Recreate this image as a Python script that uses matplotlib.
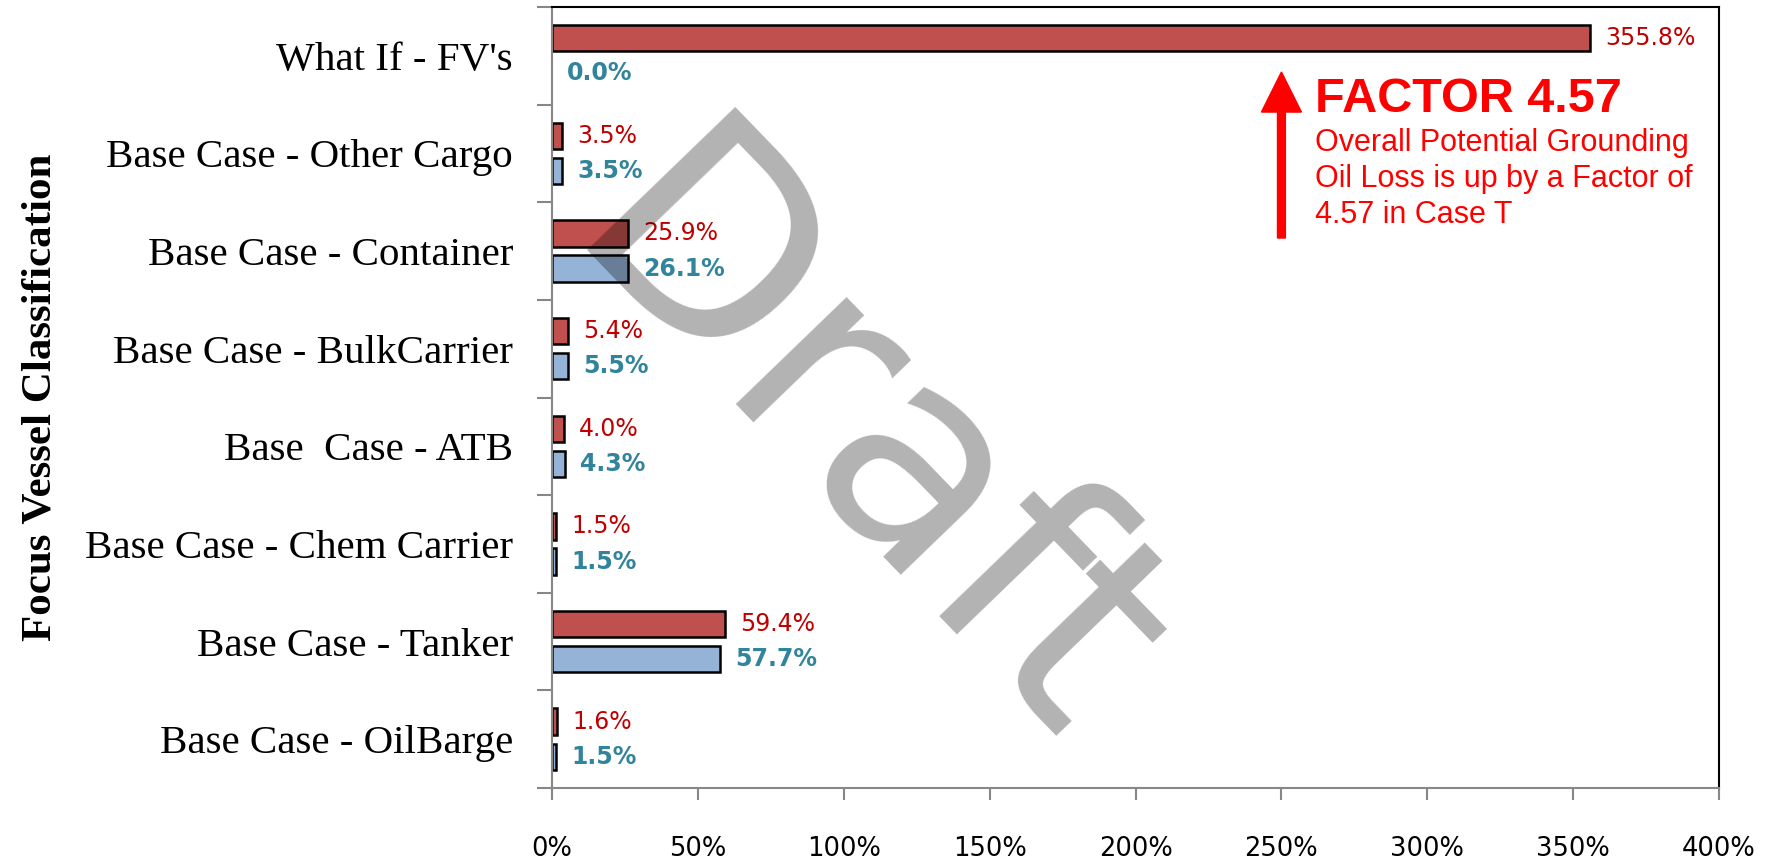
import numpy as np
import matplotlib.pyplot as plt
from matplotlib.ticker import FuncFormatter

categories = ["What If - FV's", "Base Case - Other Cargo", "Base Case - Container",
              "Base Case - BulkCarrier", "Base  Case - ATB", "Base Case - Chem Carrier",
              "Base Case - Tanker", "Base Case - OilBarge"]
case_t = [355.8, 3.5, 25.9, 5.4, 4.0, 1.5, 59.4, 1.6]
base = [0.0, 3.5, 26.1, 5.5, 4.3, 1.5, 57.7, 1.5]
x_ticks = [0, 50, 100, 150, 200, 250, 300, 350, 400]

fig = plt.figure(figsize=(17.87, 8.65), dpi=100)
ax = fig.add_axes([0.3089, 0.089, 0.962 - 0.3089, 0.9919 - 0.089])

y = np.arange(len(categories))
h = 0.27
off = 0.18
red_lw = [1.8 if v > 0 else 0 for v in case_t]
blue_lw = [1.8 if v > 0 else 0 for v in base]
ax.barh(y - off, case_t, height=h, color='#C0504D', edgecolor='black', linewidth=red_lw, zorder=2)
ax.barh(y + off, base, height=h, color='#95B3D7', edgecolor='black', linewidth=blue_lw, zorder=2)

for yi, v in zip(y, case_t):
    ax.annotate(f'{v:.1f}%', (v, yi - off), xytext=(11, 0), textcoords='offset points',
                va='center', ha='left', fontsize=17, color='#C00000', family='DejaVu Sans')
for yi, v in zip(y, base):
    ax.annotate(f'{v:.1f}%', (v, yi + off), xytext=(11, 0), textcoords='offset points',
                va='center', ha='left', fontsize=17, color='#31849B', fontweight='bold',
                family='DejaVu Sans')

ax.set_xlim(0, 400)
ax.set_ylim(len(categories) - 0.5, -0.5)
ax.set_xticks(x_ticks)
ax.xaxis.set_major_formatter(FuncFormatter(lambda v, p: f'{v:.0f}%'))
ax.set_yticks(y)
ax.set_yticklabels(categories, family='Liberation Serif', fontsize=29.5)
ax.set_yticks(np.arange(len(categories) + 1) - 0.5, minor=True)
ax.tick_params(axis='y', which='major', length=0, pad=28)
ax.tick_params(axis='y', which='minor', length=11, width=1.5, color='#878787', direction='out')
ax.tick_params(axis='x', length=8.5, width=1.5, color='#878787', direction='out', pad=26, labelsize=18.5)
for lab in ax.get_xticklabels():
    lab.set_family('DejaVu Sans')

ax.spines['left'].set_color('#878787')
ax.spines['bottom'].set_color('#878787')
for s in ax.spines.values():
    s.set_linewidth(1.5)

ax.set_ylabel('Focus Vessel Classification', family='Liberation Serif', fontweight='bold',
              fontsize=31, labelpad=0)
ax.yaxis.set_label_coords(-0.422, 0.5)

# annotation
ax.arrow(250, 1.866, 0, -1.7, width=2.7, head_width=13.7, head_length=0.41,
         length_includes_head=True, color='red', zorder=3)
ax.text(261.5, 0.576, 'FACTOR 4.57', color='red', fontsize=35, fontweight='bold',
        family='Liberation Sans', va='baseline', ha='left')
ax.text(261.5, 0.74, 'Overall Potential Grounding\nOil Loss is up by a Factor of\n4.57 in Case T',
        color='red', fontsize=22, family='Liberation Sans', va='top', ha='left', linespacing=1.25)

# watermark
ax.text(106, 4.05, 'Draft', color='black', alpha=0.3, fontsize=203, family='DejaVu Sans',
        rotation=-46, rotation_mode='anchor', ha='center', va='center', zorder=5)

fig.savefig('out.png')
